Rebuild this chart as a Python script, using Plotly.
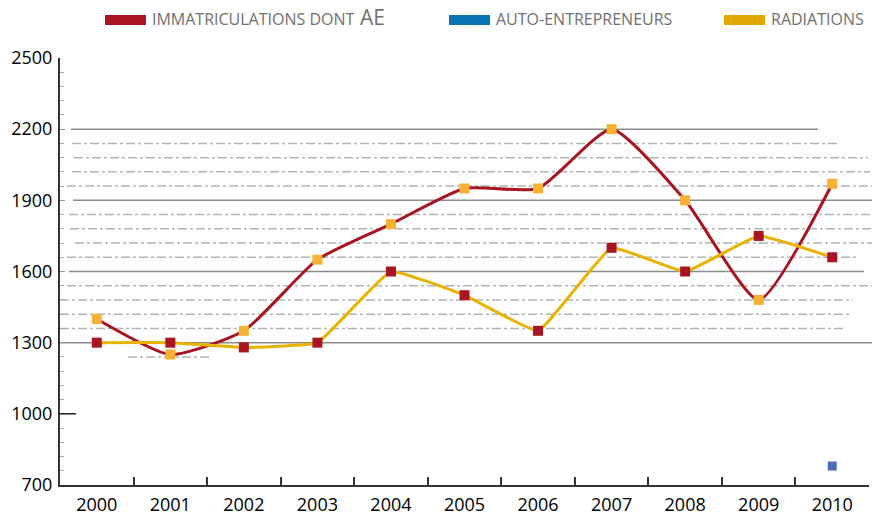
import plotly.graph_objects as go

# --- données ---
annees = ["2000", "2001", "2002", "2003", "2004", "2005",
          "2006", "2007", "2008", "2009", "2010"]
immatriculations = [1400, 1250, 1350, 1650, 1800, 1950, 1950, 2200, 1900, 1480, 1970]
radiations = [1300, 1300, 1280, 1300, 1600, 1500, 1350, 1700, 1600, 1750, 1660]
auto_entrepreneurs_annee = ["2010"]
auto_entrepreneurs = [780]

y_ticks = [700, 1000, 1300, 1600, 1900, 2200, 2500]

# lignes de fond : (valeur, debut px, fin px, style)
fond = [
    (2200, 71, 818, "solid"), (2140, 72, 837, "dash"), (2080, 74, 868, "dash"),
    (2020, 72, 870, "dash"), (1960, 67, 872, "dash"), (1900, 73, 872, "solid"),
    (1840, 69, 872, "dash"), (1780, 70, 872, "dash"), (1720, 75, 872, "dash"),
    (1660, 67, 857, "dash"), (1600, 69, 864, "solid"), (1540, 67, 872, "dash"),
    (1480, 60, 853, "dash"), (1420, 60, 852, "dash"), (1360, 60, 843, "dash"),
    (1300, 60, 872, "solid"), (1240, 128, 210, "dash"),
]

ROUGE = "#a8141f"
ORANGE = "#f8b133"
JAUNE = "#e8b200"
BLEU = "#4a6db3"
FONT = "Open Sans"

# la marge du body est remise à 0 (post_script), la figure occupe toute la page
W, H = 872, 516
L, T = 60, 58
R = W - 869
B = H - 485
pw, ph = W - L - R, H - T - B


def px_x(x):
    return (x - L) / pw


def px_y(y):
    return (H - B - y) / ph


fig = go.Figure()

fig.add_trace(go.Scatter(
    x=annees, y=immatriculations, mode="lines+markers",
    line=dict(color=ROUGE, width=3, shape="spline", smoothing=0.55),
    marker=dict(symbol="square", size=10, color=ORANGE),
    name="IMMATRICULATIONS DONT AE",
))
fig.add_trace(go.Scatter(
    x=annees, y=radiations, mode="lines+markers",
    line=dict(color=JAUNE, width=3, shape="spline", smoothing=0.3),
    marker=dict(symbol="square", size=10, color=ROUGE),
    name="RADIATIONS",
))
fig.add_trace(go.Scatter(
    x=auto_entrepreneurs_annee, y=auto_entrepreneurs, mode="markers",
    marker=dict(symbol="square", size=9, color=BLEU),
    name="AUTO-ENTREPRENEURS",
))

shapes = []
for val, x0, x1, style in fond:
    shapes.append(dict(
        type="line", xref="paper", yref="y", layer="below",
        x0=px_x(x0), x1=px_x(x1), y0=val, y1=val,
        line=dict(color="#8c8c8c" if style == "solid" else "#b4b4b4",
                  width=1.5, dash="solid" if style == "solid" else "dashdot"),
    ))
# grande graduation à 1000
shapes.append(dict(type="line", xref="paper", yref="y",
                   x0=0, x1=px_x(76), y0=1000, y1=1000,
                   line=dict(color="#222", width=1.5)))

# légende manuelle en haut
legende = [
    (105, ROUGE, "IMMATRICULATIONS DONT"),
    (449, "#0a72b4", "AUTO-ENTREPRENEURS"),
    (724, "#e0a800", "RADIATIONS"),
]
annotations = []
for x0, col, txt in legende:
    shapes.append(dict(type="rect", xref="paper", yref="paper",
                       x0=px_x(x0), x1=px_x(x0 + 41), y0=px_y(25), y1=px_y(15),
                       fillcolor=col, line=dict(width=0)))
    annotations.append(dict(xref="paper", yref="paper", x=px_x(x0 + 45), y=px_y(19),
                            xanchor="left", yanchor="middle", showarrow=False,
                            text=txt, font=dict(family=FONT, size=16, color="#707070")))
annotations.append(dict(xref="paper", yref="paper", x=px_x(358), y=px_y(17),
                        xanchor="left", yanchor="middle", showarrow=False,
                        text="AE", font=dict(family=FONT, size=21, color="#707070")))

fig.update_layout(
    width=W, height=H,
    margin=dict(l=L, r=R, t=T, b=B, autoexpand=False),
    plot_bgcolor="white", paper_bgcolor="white",
    showlegend=False,
    shapes=shapes, annotations=annotations,
    font=dict(family=FONT, color="#111"),
)
fig.update_xaxes(
    type="category", range=[-0.5, 10.5], automargin=False,
    showgrid=False, zeroline=False,
    showline=True, linecolor="#333", linewidth=2,
    ticks="inside", tickson="boundaries", ticklen=8, tickcolor="#333", tickwidth=1.5,
    tickfont=dict(family=FONT, size=18, color="#000"),
    ticklabelstandoff=2,
)
fig.update_yaxes(
    range=[700, 2500], tickvals=y_ticks, automargin=False,
    showgrid=False, zeroline=False,
    showline=True, linecolor="#333", linewidth=2,
    ticks="inside", ticklen=5, tickcolor="#999",
    minor=dict(ticks="inside", dtick=60, tick0=700, ticklen=4, tickcolor="#aaa"),
    tickfont=dict(family=FONT, size=18, color="#000"),
    ticklabelstandoff=2,
)

fig.write_html("out.html", config={"displayModeBar": False},
               post_script="document.body.style.margin='0';document.body.style.overflow='hidden';")
